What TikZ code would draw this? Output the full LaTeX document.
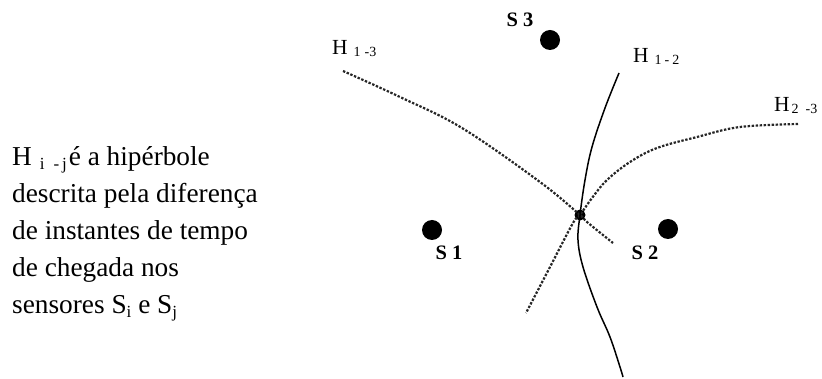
\documentclass[tikz,border=0pt]{standalone}
\usepackage{fontspec}
\setmainfont{Liberation Serif}
\newcommand\hsub[1]{{\fontsize{14}{14}\selectfont\raisebox{-1.5pt}{#1}}}
\newcommand\bsub[1]{{\fontsize{17}{17}\selectfont\raisebox{-3.5pt}{#1}}}
\begin{document}
\begin{tikzpicture}[x=1pt,y=-1pt,
  sensor/.style={circle,fill=black,inner sep=0pt,minimum size=20pt},
  cross/.style={circle,fill=black,inner sep=0pt,minimum size=11pt},
  slabel/.style={font=\fontsize{20.5}{24}\selectfont\bfseries,inner sep=0pt,anchor=base},
  hlabel/.style={font=\fontsize{21.5}{24}\selectfont,inner sep=0pt,anchor=base west},
  body/.style={font=\fontsize{27.3}{33}\selectfont,inner sep=0pt,anchor=base west},
  hyp/.style={line width=2.2pt,dash pattern=on 2.4pt off 1.6pt,black!85},
  hypsolid/.style={line width=1.5pt}]
\useasboundingbox (0,0) rectangle (822,379);

% sensors
\node[sensor] (s1) at (432,230) {};
\node[sensor] (s2) at (668,229) {};
\node[sensor] (s3) at (550,40) {};
\node[slabel] (l1) at (449,260) {S 1};
\node[slabel] (l2) at (645,260) {S 2};
\node[slabel] (l3) at (520,27) {S 3};

% intersection
\node[cross] (x) at (580,215) {};

% hyperbolas
\draw[hyp] plot[smooth,tension=0.6] coordinates {(343,71) (400,97) (462,128) (540,182) (x.center) (587,222) (613,243)};
\draw[hyp] plot[smooth,tension=0.6] coordinates {(798,124) (740,127) (697,137) (657,148) (630,162) (607,180) (592,198) (x.center) (573,223) (550,267) (526,313)};
\draw[hypsolid] plot[smooth,tension=0.6] coordinates {(619,73) (605,108) (592,147) (585,180) (x.center) (578,240) (583,267) (597,307) (610,337) (620,367) (623,377)};

% hyperbola labels
\node[hlabel] (h13) at (332,55) {H\hspace{6pt}\hsub{1\hspace{4pt}-3}};
\node[hlabel] (h12) at (633,63) {H\hspace{6pt}\hsub{1\hspace{3pt}-\hspace{3pt}2}};
\node[hlabel] (h23) at (774,112) {H\hspace{2pt}\hsub{2\hspace{7pt}-3}};

% legend text
\node[body] (t1) at (12,166) {H\hspace{8pt}\bsub{i\hspace{9pt}-\,j}\hspace{2pt}é a hipérbole};
\node[body] (t2) at (12,203) {descrita pela diferença};
\node[body] (t3) at (12,240) {de instantes de tempo};
\node[body] (t4) at (12,277) {de chegada nos};
\node[body] (t5) at (12,314) {sensores S\bsub{i} e S\bsub{j}};
\end{tikzpicture}
\end{document}
